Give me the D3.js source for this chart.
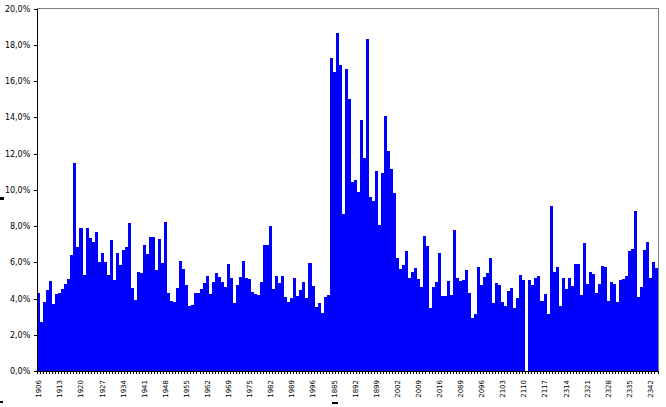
<!DOCTYPE html>
<html><head><meta charset="utf-8">
<script src="https://cdn.jsdelivr.net/npm/d3@7"></script>
<style>body{margin:0;background:#fff}svg{display:block}</style>
</head><body>
<script>
const values = [4.31,2.71,3.82,4.48,4.98,3.71,4.26,4.31,4.53,4.81,5.09,6.41,11.50,6.86,7.91,5.31,7.91,7.35,7.13,7.69,
6.03,6.53,6.03,5.31,7.24,5.03,6.53,5.86,6.69,6.86,8.18,4.59,3.93,5.47,5.42,6.97,6.47,7.41,7.41,5.59,
7.30,5.97,8.24,4.31,3.87,3.82,4.59,6.08,5.64,4.76,3.59,3.65,4.31,4.31,4.53,4.87,5.25,4.26,4.92,5.42,
5.20,4.92,4.65,5.92,5.14,3.76,4.76,5.20,6.08,5.14,5.09,4.37,4.26,4.20,4.92,6.97,6.97,8.02,4.53,5.25,
4.87,5.25,4.09,3.82,4.04,5.14,4.15,4.48,4.92,4.04,5.97,4.70,3.54,3.76,3.21,4.09,4.20,17.27,16.50,18.65,
16.88,8.66,16.66,15.01,10.43,10.54,9.88,13.85,11.77,18.32,9.60,9.38,11.03,8.06,10.92,14.07,12.14,11.15,9.82,6.23,
5.63,5.85,6.62,5.13,5.46,5.68,5.08,4.63,7.45,6.90,3.48,4.65,4.92,6.53,4.15,4.15,4.98,4.20,7.80,5.14,
4.98,5.03,5.59,4.31,2.93,3.15,5.75,4.76,5.20,5.42,6.25,3.76,4.87,4.76,3.82,3.59,4.42,4.59,3.48,4.04,
5.31,5.03,0,5.03,4.76,5.14,5.25,3.87,4.26,3.15,9.12,5.47,5.75,3.59,5.14,4.53,5.14,4.70,5.92,5.92,
4.20,7.08,4.81,5.47,5.36,4.31,4.81,5.81,5.75,3.87,4.92,4.81,3.82,5.03,5.09,5.25,6.64,6.75,8.85,4.09,
4.65,6.69,7.13,5.14,6.03,5.70];
const categories = values.map((v,i)=>i);
const tickLabels = ["1906","1913","1920","1927","1934","1941","1948","1955","1962","1969",
"1975","1982","1989","1996","1885","1892","1899","2002","2009","2016",
"2089","2096","2103","2110","2117","2314","2321","2328","2335","2342"];
const labelStep = 7;
const yTicks = [0,2,4,6,8,10,12,14,16,18,20];

const W=666,H=407, L=37.3, R=658, T=8.5, B=371;
const svg=d3.select("body").append("svg").attr("width",W).attr("height",H);
const x=d3.scaleBand().domain(categories).range([L,R]).padding(0);
const y=d3.scaleLinear().domain([0,20]).range([B,T]);

// plot border (gray top/right)
svg.append("path").attr("d",`M${L},${y(20)}H${R}V${B}`).attr("fill","none").attr("stroke","#808080").attr("stroke-width",1).attr("shape-rendering","crispEdges");

svg.append("g").selectAll("rect").data(values).join("rect")
  .attr("x",(d,i)=>x(categories[i])).attr("width",x.bandwidth()+0.01)
  .attr("y",d=>y(d)).attr("height",d=>B-y(d))
  .attr("fill","#0000FF").attr("shape-rendering","crispEdges");

const font="DejaVu Sans, Arial, sans-serif";
const ya=svg.append("g").attr("transform",`translate(${L},0)`)
  .call(d3.axisLeft(y).tickValues(yTicks).tickSize(3).tickSizeOuter(0).tickPadding(4)
  .tickFormat(d=>d.toFixed(1).replace(".",",")+"%"));
ya.selectAll("text").attr("font-family",font).attr("font-size","8px").attr("fill","#000");
ya.selectAll("line,path").attr("stroke","#000").attr("shape-rendering","crispEdges");

// x axis: ticks at each category boundary
const xa=svg.append("g").attr("transform",`translate(0,${B})`);
xa.append("line").attr("x1",L).attr("x2",R).attr("y1",0).attr("y2",0).attr("stroke","#000").attr("shape-rendering","crispEdges");
const bounds=categories.map(c=>x(c)).concat([R]);
xa.selectAll("line.t").data(bounds).join("line").attr("class","t")
  .attr("x1",d=>d).attr("x2",d=>d).attr("y1",0).attr("y2",3).attr("stroke","#000").attr("shape-rendering","crispEdges");
xa.selectAll("text").data(tickLabels).join("text")
  .attr("transform",(d,i)=>`translate(${x(categories[i*labelStep])+x.bandwidth()/2},9) rotate(-90)`)
  .attr("text-anchor","end").attr("dy","0.35em")
  .attr("font-family",font).attr("font-size","7px").attr("fill","#000").text(d=>d);

// small marks present in reference
svg.append("rect").attr("x",0).attr("y",197).attr("width",4).attr("height",3).attr("fill","#000");
svg.append("rect").attr("x",0).attr("y",401).attr("width",3).attr("height",2).attr("fill","#000");
svg.append("rect").attr("x",332).attr("y",402).attr("width",6).attr("height",2).attr("fill","#000");
</script>
</body></html>
